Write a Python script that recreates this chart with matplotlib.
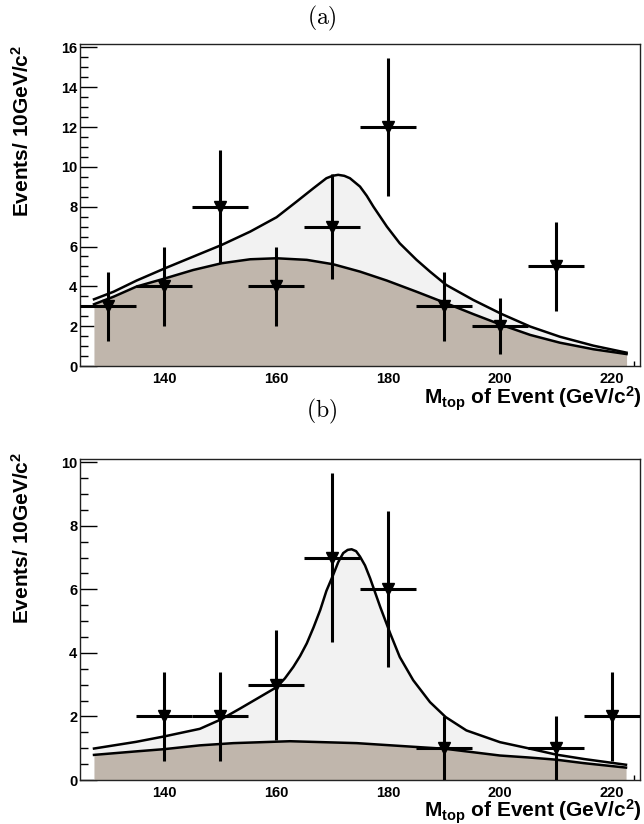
import numpy as np
import matplotlib
matplotlib.use("Agg")
from matplotlib import pyplot as plt
from matplotlib.ticker import MultipleLocator

plt.rcParams['font.family'] = ['Liberation Sans', 'DejaVu Sans']
plt.rcParams['font.weight'] = 'bold'
plt.rcParams['mathtext.fontset'] = 'custom'
plt.rcParams['mathtext.rm'] = 'Liberation Sans:bold'
plt.rcParams['mathtext.it'] = 'Liberation Sans:bold'
plt.rcParams['mathtext.bf'] = 'Liberation Sans:bold'

# data points, panel (a)
bins_a = [130, 140, 150, 160, 170, 180, 190, 200, 210]
counts_a = [3, 4, 8, 4, 7, 12, 3, 2, 5]
errs_a = [1.73, 2.0, 2.83, 2.0, 2.65, 3.46, 1.73, 1.41, 2.24]

# data points, panel (b)
bins_b = [140, 150, 160, 170, 180, 190, 210, 220]
counts_b = [2, 2, 3, 7, 6, 1, 1, 2]
errs_b = [1.41, 1.41, 1.73, 2.65, 2.45, 1.0, 1.0, 1.41]

# fitted curves (total = signal + background)
total_a_x = [127.5, 131, 135.1, 140.2, 145.2, 150.3, 155.4, 160.1, 163.7, 166.7, 169, 170.1,
             171.1, 172.2, 173.2, 175, 176.2, 177.4, 178.6, 179.8, 182.1, 185.1, 187.5,
             190.4, 195.2, 200.3, 205.4, 210.7, 216.7, 222.6]
total_a_y = [3.35, 3.73, 4.29, 4.91, 5.49, 6.08, 6.75, 7.47, 8.26, 8.93, 9.43, 9.55,
             9.6, 9.55, 9.43, 9.01, 8.55, 8.0, 7.5, 7.0, 6.16, 5.33, 4.74,
             4.07, 3.32, 2.61, 1.98, 1.47, 1.02, 0.67]
bkg_a_x = [127.5, 131, 135.1, 140.2, 145.2, 150.3, 155.4, 160.1, 165.5, 170.2, 175, 179.8,
           185.1, 190.4, 195.2, 200.3, 205.4, 210.7, 216.7, 222.6]
bkg_a_y = [3.1, 3.48, 3.99, 4.40, 4.82, 5.16, 5.36, 5.41, 5.33, 5.11, 4.74, 4.29,
           3.73, 3.15, 2.61, 2.06, 1.56, 1.17, 0.84, 0.60]

total_b_x = [127.5, 135, 140, 146.4, 150.1, 153.6, 157.1, 160.2, 161.6, 163.1, 164.3, 165.5,
             166.7, 167.9, 169.0, 170.2, 171.1, 172.0, 172.8, 173.5, 174.3, 175.0, 175.9,
             176.8, 177.7, 178.6, 180.4, 182.1, 184.5, 187.5, 190.3, 194.0, 200.0, 205,
             210, 215, 222.5]
total_b_y = [0.99, 1.2, 1.37, 1.61, 1.90, 2.25, 2.61, 2.93, 3.2, 3.56, 3.9, 4.30,
             4.8, 5.35, 5.95, 6.45, 6.85, 7.14, 7.24, 7.26, 7.2, 7.03, 6.75,
             6.35, 5.9, 5.45, 4.61, 3.87, 3.14, 2.45, 1.98, 1.56, 1.19, 1.0,
             0.8, 0.66, 0.48]
bkg_b_x = [127.5, 135, 140, 146.4, 152.4, 162.5, 174.4, 190.3, 200, 205, 210, 215, 222.5]
bkg_b_y = [0.79, 0.9, 0.97, 1.09, 1.16, 1.22, 1.16, 0.98, 0.77, 0.71, 0.64, 0.53, 0.39]

W, H = 644, 824
fig = plt.figure(figsize=(W / 100, H / 100), dpi=100)

def make_axes(top, bottom):
    return fig.add_axes([80 / W, 1 - bottom / H, 560 / W, (bottom - top) / H])

def draw_panel(ax, tx, ty, bx, by, bins, counts, errs, ymax, tag, tag_y, label_y):
    ax.fill_between(tx, 0, ty, color='#f2f2f2', lw=0, zorder=1.6)
    ax.fill_between(bx, 0, by, color='#c0b6ac', lw=0, zorder=1.7)
    ax.plot(tx, ty, color='black', lw=1.8, zorder=3, solid_joinstyle='round')
    ax.plot(bx, by, color='black', lw=1.8, zorder=3, solid_joinstyle='round')
    ax.errorbar(bins, counts, xerr=5, yerr=errs, fmt='v', color='black', ms=8,
                elinewidth=2.2, capsize=0, zorder=4, clip_on=True)
    ax.set_xlim(125, 225)
    ax.set_ylim(0, ymax)
    ax.xaxis.set_major_locator(MultipleLocator(20))
    ax.xaxis.set_minor_locator(MultipleLocator(4))
    ax.yaxis.set_major_locator(MultipleLocator(2))
    ax.yaxis.set_minor_locator(MultipleLocator(0.5))
    ax.tick_params(axis='y', which='major', direction='in', length=12, width=1, pad=2,
                   labelsize=10.5)
    ax.tick_params(axis='y', which='minor', direction='in', length=6, width=1)
    ax.tick_params(axis='x', which='major', direction='in', length=7, width=1, pad=4,
                   labelsize=10.5)
    ax.tick_params(axis='x', which='minor', direction='in', length=3.5, width=1)
    ax.set_xticks([140, 160, 180, 200, 220])
    for s in ax.spines.values():
        s.set_linewidth(1)
        s.set_color('#222222')
    ax.text(1.004, label_y, r'M$_{top}$ of Event (GeV/c$^{2}$)', transform=ax.transAxes,
            ha='right', va='baseline', fontsize=15, fontweight='bold')
    fig.text(0.5, 1 - tag_y / H, r'$\mathrm{(' + tag + ')}$', math_fontfamily='cm',
             ha='center', va='center', fontsize=17)

ax_a = make_axes(44, 366)
draw_panel(ax_a, total_a_x, total_a_y, bkg_a_x, bkg_a_y, bins_a, counts_a, errs_a,
           16.17, 'a', 18, -0.121)
fig.text(22 / W, 1 - 45 / H, r'Events/ 10GeV/c$^{2}$', rotation=90, ha='center',
         va='top', fontsize=15, fontweight='bold')

ax_b = make_axes(459, 780)
draw_panel(ax_b, total_b_x, total_b_y, bkg_b_x, bkg_b_y, bins_b, counts_b, errs_b,
           10.1, 'b', 411, -0.118)
fig.text(22 / W, 1 - 452 / H, r'Events/ 10GeV/c$^{2}$', rotation=90, ha='center',
         va='top', fontsize=15, fontweight='bold')

fig.savefig('out.png', dpi=100)
